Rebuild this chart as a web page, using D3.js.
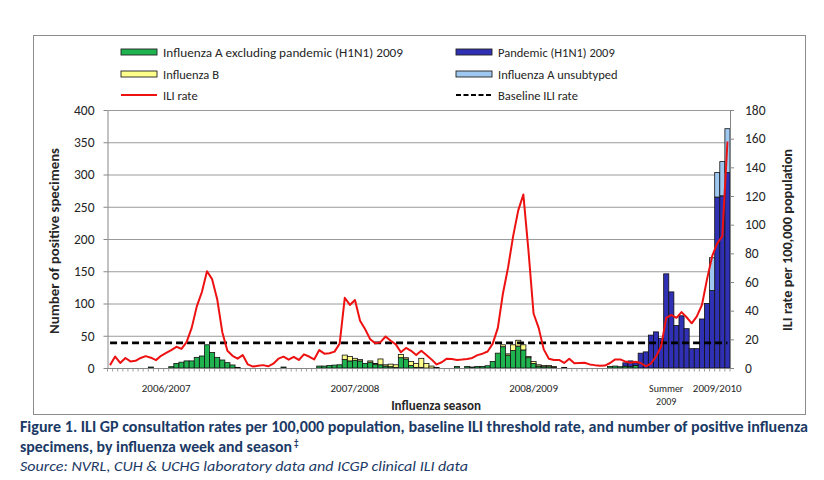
<!DOCTYPE html>
<html>
<head>
<meta charset="utf-8">
<script src="https://cdn.jsdelivr.net/npm/d3@7/dist/d3.min.js"></script>
<style>
    html, body { margin: 0; padding: 0; background: #fff; }
    svg { display: block; font-family: Carlito, Lato, "Open Sans", sans-serif; }
</style>
</head>
<body>
<div id="main"></div>
<script>
// weekly categories: 2006/07, 2007/08, 2008/09 seasons (wk40-wk20), summer 2009, start of 2009/10
const WEEK_COUNT = 122;
const weeks = d3.range(WEEK_COUNT);

const seasonLabels = ["2006/2007", "2007/2008", "2008/2009", "Summer\n2009", "2009/2010"];
const seasonLabelWeek = [11, 48, 83, 109, 119];

const leftTicks = [0, 50, 100, 150, 200, 250, 300, 350, 400];
const rightTicks = [0, 20, 40, 60, 80, 100, 120, 140, 160, 180];

// number of positive specimens per week
const fluAExclPandemic = [
    0, 0, 0, 0, 0, 0, 0, 0, 1.5, 0,
    0, 0, 2, 7, 9, 11, 11, 16.5, 18.6, 36,
    24, 16.5, 12.4, 8.3, 4.7, 1, 0, 0, 0, 0,
    0, 0, 0, 0, 1.5, 0, 0, 0, 0, 0,
    0, 3, 3, 4, 4.5, 5, 13, 11, 12, 11,
    7, 9, 6, 5, 3, 2, 1, 16, 14, 4,
    1, 1, 0, 0, 0, 0, 0, 0, 2.5, 0,
    2.5, 1.5, 2.5, 2.5, 3.5, 10, 23, 33, 20, 27,
    34, 28, 16, 7, 3, 2, 2, 1, 0, 1,
    0, 0, 0, 0, 0, 0, 0, 0, 2.5, 3,
    2, 3, 2, 4, 0, 0, 0, 0, 0, 0,
    0, 0, 0, 0, 0, 0, 0, 0, 0, 0,
    0, 0
];
const fluB = [
    0, 0, 0, 0, 0, 0, 0, 0, 0, 0,
    0, 0, 0, 0, 0, 0, 0, 0, 0, 0,
    0, 0, 0, 0, 0, 0, 0, 0, 0, 0,
    0, 0, 0, 0, 0, 0, 0, 0, 0, 0,
    0, 0, 0, 0, 0, 0, 7, 7, 3, 2,
    0, 2, 1, 9, 2, 4, 4, 5, 2, 6,
    6, 14, 7, 3, 1, 0, 0, 0, 0, 0,
    0, 0, 0, 0, 0, 0, 0, 3, 2, 9,
    9, 8, 2, 3, 2, 2, 2, 1.5, 0, 0,
    0, 0, 0, 0, 0, 0, 0, 0, 0, 0,
    0, 0, 0, 0, 0, 0, 0, 0, 0, 0,
    0, 0, 0, 0, 0, 0, 0, 0, 0, 0,
    0, 0
];
const pandemicH1N1 = [
    0, 0, 0, 0, 0, 0, 0, 0, 0, 0,
    0, 0, 0, 0, 0, 0, 0, 0, 0, 0,
    0, 0, 0, 0, 0, 0, 0, 0, 0, 0,
    0, 0, 0, 0, 0, 0, 0, 0, 0, 0,
    0, 0, 0, 0, 0, 0, 0, 0, 0, 0,
    0, 0, 0, 0, 0, 0, 0, 0, 0, 0,
    0, 0, 0, 0, 0, 0, 0, 0, 0, 0,
    0, 0, 0, 0, 0, 0, 0, 0, 0, 0,
    0, 0, 0, 0, 0, 0, 0, 0, 0, 0,
    0, 0, 0, 0, 0, 0, 0, 0, 0, 0,
    0, 5, 9, 4, 23, 25, 51, 56, 46, 146,
    118, 66, 81, 61, 30, 30, 76, 100, 120, 265,
    267, 303
];
const fluAUnsubtyped = [
    0, 0, 0, 0, 0, 0, 0, 0, 0, 0,
    0, 0, 0, 0, 0, 0, 0, 0, 0, 0,
    0, 0, 0, 0, 0, 0, 0, 0, 0, 0,
    0, 0, 0, 0, 0, 0, 0, 0, 0, 0,
    0, 0, 0, 0, 0, 0, 0, 0, 0, 0,
    0, 0, 0, 0, 0, 0, 0, 0, 0, 0,
    0, 0, 0, 0, 0, 0, 0, 0, 0, 0,
    0, 0, 0, 0, 0, 0, 0, 0, 0, 0,
    0, 0, 0, 0, 0, 0, 0, 0, 0, 0,
    0, 0, 0, 0, 0, 0, 0, 0, 0, 0,
    0, 0, 0, 0, 0, 0, 0, 0, 0, 0,
    0, 0, 0, 0, 0, 0, 0, 0, 51, 38,
    53, 68
];

// ILI rate per 100,000 (right axis)
const iliRate = [
    2, 8, 3.5, 7, 4.6, 5, 7, 8.3, 7.2, 5.5,
    8.5, 10.5, 12.5, 14.8, 13.3, 18, 28, 43, 53, 67.5,
    62, 48, 25, 12, 8.5, 6.5, 9, 2.5, 1, 1.5,
    2, 1.2, 3, 6.5, 7.9, 5.8, 7.8, 5.6, 9.5, 8,
    6, 12.5, 10, 10.3, 11.4, 17, 49, 44, 47.4, 33,
    27, 20, 17.2, 18, 22, 19, 16.5, 11, 14, 12,
    9, 12, 9, 6, 2.5, 4, 6.5, 6.3, 5.6, 5.9,
    6.3, 7, 9, 10, 11.5, 17, 28, 52, 70, 92,
    110, 121, 82, 38, 28, 13, 6.5, 5.6, 5.6, 3.5,
    6.5, 3.3, 3.5, 3.7, 2.5, 2, 1.6, 1.7, 3.5, 6,
    6, 4.5, 3.7, 4.3, 3.5, 1.2, 3, 8, 15, 35,
    37, 35, 39, 35.4, 31.2, 36, 44, 62, 78, 87,
    92, 158
];
const baselineRate = 17.5;

const seriesKeys = ["fluA", "fluB", "pandemic", "unsubtyped"];
const seriesNames = {
    fluA: "Influenza A excluding pandemic (H1N1) 2009",
    fluB: "Influenza B",
    pandemic: "Pandemic (H1N1) 2009",
    unsubtyped: "Influenza A unsubtyped"
};

const ctx = {
    W: 824,
    H: 480,
    PLOT_LEFT: 107.5,
    PLOT_RIGHT: 730,
    PLOT_TOP: 110,
    PLOT_BOTTOM: 368,
    COLORS: {
        fluA: "#1fb350",
        fluB: "#ffff8c",
        pandemic: "#3030b4",
        unsubtyped: "#9ec8f0"
    },
    ILI_COLOR: "#ee1111",
    AXIS_COLOR: "#868686",
    GRID_COLOR: "#9a9a9a",
    TEXT_COLOR: "#262626",
    CAPTION_COLOR: "#1b3a66"
};

function drawChart() {

    let svg = d3.select("#main").append("svg")
        .attr("width", ctx.W)
        .attr("height", ctx.H);

    // outer chart frame
    svg.append("rect")
        .attr("x", 33.5).attr("y", 35.5)
        .attr("width", 772).attr("height", 379)
        .attr("fill", "none")
        .attr("stroke", "#8c8c8c");

    let x = d3.scaleBand()
        .domain(weeks)
        .range([ctx.PLOT_LEFT, ctx.PLOT_RIGHT])
        .paddingInner(0).paddingOuter(0);
    let yL = d3.scaleLinear().domain([0, 400]).range([ctx.PLOT_BOTTOM, ctx.PLOT_TOP]);
    let yR = d3.scaleLinear().domain([0, 180]).range([ctx.PLOT_BOTTOM, ctx.PLOT_TOP]);

    // gridlines
    svg.append("g")
        .attr("transform", `translate(${ctx.PLOT_LEFT},0)`)
        .call(d3.axisLeft(yL).tickValues(leftTicks.slice(1))
            .tickSize(-(ctx.PLOT_RIGHT - ctx.PLOT_LEFT)).tickFormat(""))
        .call(g => g.select(".domain").remove())
        .call(g => g.selectAll("line").attr("stroke", ctx.GRID_COLOR).attr("stroke-width", 1));

    // stacked bars
    let table = weeks.map(i => ({
        fluA: fluAExclPandemic[i],
        fluB: fluB[i],
        pandemic: pandemicH1N1[i],
        unsubtyped: fluAUnsubtyped[i]
    }));
    let stacked = d3.stack().keys(seriesKeys)(table);

    svg.append("g").selectAll("g")
        .data(stacked)
        .join("g")
        .attr("fill", d => ctx.COLORS[d.key])
        .selectAll("rect")
        .data(d => d.map((v, i) => ({v, i})).filter(o => o.v[1] - o.v[0] > 0))
        .join("rect")
        .attr("x", o => x(o.i))
        .attr("width", x.bandwidth())
        .attr("y", o => yL(o.v[1]))
        .attr("height", o => yL(o.v[0]) - yL(o.v[1]))
        .attr("stroke", "#111")
        .attr("stroke-width", 0.8);

    let cx = i => x(i) + x.bandwidth() / 2;

    // baseline ILI rate
    svg.append("path")
        .datum(weeks)
        .attr("fill", "none")
        .attr("stroke", "#000")
        .attr("stroke-width", 2.6)
        .attr("stroke-dasharray", "7,4")
        .attr("d", d3.line().x(i => cx(i)).y(() => yR(baselineRate)));

    // ILI rate
    svg.append("path")
        .datum(iliRate)
        .attr("fill", "none")
        .attr("stroke", ctx.ILI_COLOR)
        .attr("stroke-width", 2)
        .attr("stroke-linejoin", "round")
        .attr("d", d3.line().x((d, i) => cx(i)).y(d => yR(d)));

    // left axis
    svg.append("g")
        .attr("transform", `translate(${ctx.PLOT_LEFT},0)`)
        .call(d3.axisLeft(yL).tickValues(leftTicks).tickSize(4).tickPadding(9).tickSizeOuter(0))
        .call(g => g.select(".domain").attr("stroke", ctx.AXIS_COLOR))
        .call(g => g.selectAll("line").attr("stroke", ctx.AXIS_COLOR))
        .call(g => g.selectAll("text")
            .attr("font-family", "Carlito, Lato, sans-serif")
            .attr("font-size", 13.5).attr("fill", ctx.TEXT_COLOR));

    // right axis
    svg.append("g")
        .attr("transform", `translate(${ctx.PLOT_RIGHT},0)`)
        .call(d3.axisRight(yR).tickValues(rightTicks).tickSize(4).tickPadding(11).tickSizeOuter(0))
        .call(g => g.select(".domain").attr("stroke", ctx.AXIS_COLOR))
        .call(g => g.selectAll("line").attr("stroke", ctx.AXIS_COLOR))
        .call(g => g.selectAll("text")
            .attr("font-family", "Carlito, Lato, sans-serif")
            .attr("font-size", 13.5).attr("fill", ctx.TEXT_COLOR));

    // bottom axis with week ticks at category boundaries
    let xAxisG = svg.append("g");
    xAxisG.append("line")
        .attr("x1", ctx.PLOT_LEFT).attr("x2", ctx.PLOT_RIGHT)
        .attr("y1", ctx.PLOT_BOTTOM + 0.5).attr("y2", ctx.PLOT_BOTTOM + 0.5)
        .attr("stroke", ctx.AXIS_COLOR);
    xAxisG.selectAll("line.tick")
        .data(weeks.concat([WEEK_COUNT]))
        .join("line")
        .attr("class", "tick")
        .attr("x1", i => (i < WEEK_COUNT ? x(i) : ctx.PLOT_RIGHT))
        .attr("x2", i => (i < WEEK_COUNT ? x(i) : ctx.PLOT_RIGHT))
        .attr("y1", ctx.PLOT_BOTTOM)
        .attr("y2", ctx.PLOT_BOTTOM + 3.5)
        .attr("stroke", ctx.AXIS_COLOR)
        .attr("stroke-width", 0.8);

    // season labels
    seasonLabels.forEach((lab, k) => {
        let lines = lab.split("\n");
        let t = svg.append("text")
            .attr("x", cx(seasonLabelWeek[k]))
            .attr("y", 392)
            .attr("text-anchor", "middle")
            .attr("font-size", lines.length > 1 ? 10 : 11)
            .attr("fill", ctx.TEXT_COLOR);
        lines.forEach((l, j) => {
            t.append("tspan").attr("x", cx(seasonLabelWeek[k])).attr("dy", j === 0 ? 0 : 13).text(l);
        });
    });

    // axis titles
    svg.append("text")
        .attr("transform", "translate(59,241) rotate(-90)")
        .attr("text-anchor", "middle")
        .attr("font-size", 13).attr("font-weight", "bold")
        .attr("fill", ctx.TEXT_COLOR)
        .attr("textLength", 186).attr("lengthAdjust", "spacingAndGlyphs")
        .text("Number of positive  specimens");

    svg.append("text")
        .attr("transform", "translate(792,240) rotate(-90)")
        .attr("text-anchor", "middle")
        .attr("font-size", 13).attr("font-weight", "bold")
        .attr("fill", ctx.TEXT_COLOR)
        .attr("textLength", 182).attr("lengthAdjust", "spacingAndGlyphs")
        .text("ILI rate per 100,000 population");

    svg.append("text")
        .attr("x", 436).attr("y", 410)
        .attr("text-anchor", "middle")
        .attr("font-size", 13).attr("font-weight", "bold")
        .attr("fill", ctx.TEXT_COLOR)
        .text("Influenza season");

    // legend
    let legendItems = [
        {key: "fluA", x: 121, y: 52, type: "rect", width: 240},
        {key: "fluB", x: 121, y: 74, type: "rect", width: 0},
        {key: "ili", x: 121, y: 95, type: "line", label: "ILI rate", width: 0},
        {key: "pandemic", x: 456, y: 52, type: "rect", width: 0},
        {key: "unsubtyped", x: 456, y: 74, type: "rect", width: 0},
        {key: "baseline", x: 456, y: 95, type: "dash", label: "Baseline ILI rate", width: 0}
    ];
    let legend = svg.append("g");
    legendItems.forEach(it => {
        if (it.type === "rect") {
            legend.append("rect")
                .attr("x", it.x).attr("y", it.y - 3)
                .attr("width", 36).attr("height", 6)
                .attr("fill", ctx.COLORS[it.key])
                .attr("stroke", "#222").attr("stroke-width", 0.9);
        } else if (it.type === "line") {
            legend.append("line")
                .attr("x1", it.x).attr("x2", it.x + 36)
                .attr("y1", it.y).attr("y2", it.y)
                .attr("stroke", ctx.ILI_COLOR).attr("stroke-width", 2);
        } else {
            legend.append("line")
                .attr("x1", it.x).attr("x2", it.x + 36)
                .attr("y1", it.y).attr("y2", it.y)
                .attr("stroke", "#000").attr("stroke-width", 2)
                .attr("stroke-dasharray", "5,2.5");
        }
        let t = legend.append("text")
            .attr("x", it.x + 42).attr("y", it.y + 4.5)
            .attr("font-size", 12.5)
            .attr("fill", ctx.TEXT_COLOR)
            .text(it.label || seriesNames[it.key]);
        if (it.width) t.attr("textLength", it.width).attr("lengthAdjust", "spacingAndGlyphs");
    });

    // caption
    svg.append("text")
        .attr("x", 20).attr("y", 432)
        .attr("font-size", 15).attr("font-weight", "bold")
        .attr("fill", ctx.CAPTION_COLOR)
        .attr("textLength", 788).attr("lengthAdjust", "spacingAndGlyphs")
        .text("Figure 1. ILI GP consultation rates per 100,000 population, baseline ILI threshold rate, and number of positive influenza");

    let cap2 = svg.append("text")
        .attr("x", 20).attr("y", 452)
        .attr("font-size", 15).attr("font-weight", "bold")
        .attr("fill", ctx.CAPTION_COLOR);
    cap2.append("tspan")
        .attr("textLength", 272).attr("lengthAdjust", "spacingAndGlyphs")
        .text("specimens, by influenza week and season");
    cap2.append("tspan")
        .attr("dx", 2).attr("dy", -6)
        .attr("font-size", 9)
        .text("‡");

    svg.append("text")
        .attr("x", 20).attr("y", 471)
        .attr("font-size", 14).attr("font-style", "italic")
        .attr("fill", ctx.CAPTION_COLOR)
        .attr("textLength", 448).attr("lengthAdjust", "spacingAndGlyphs")
        .text("Source: NVRL, CUH & UCHG laboratory data and ICGP clinical ILI data");
}

drawChart();
</script>
</body>
</html>
